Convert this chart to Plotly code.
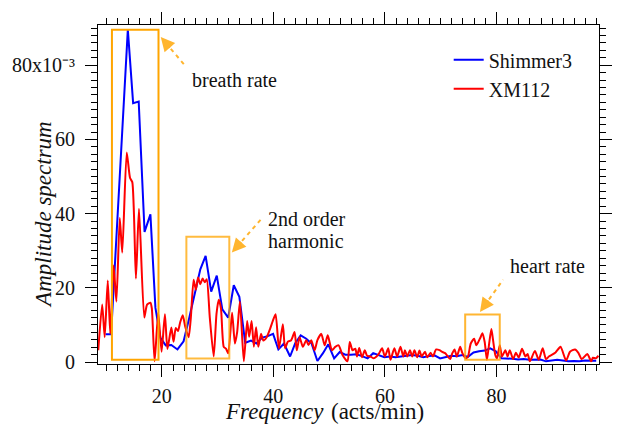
import plotly.graph_objects as go

# Shimmer3 amplitude spectrum: frequency (acts/min) and amplitude (x1e-3)
shimmer_freq = [9.9, 10.9, 11.9, 12.9, 13.9, 14.85, 15.85, 16.9, 17.95, 18.85,
                19.75, 20.7, 21.7, 22.8, 23.9, 24.9, 25.9, 26.9, 27.85, 28.85,
                29.85, 30.85, 31.9, 32.9, 33.9, 34.95, 36.0, 36.95, 38.0, 39.0,
                39.95, 40.9, 41.9, 43.0, 43.9, 44.9, 45.9, 46.85, 47.9, 48.9,
                49.85, 50.9, 51.9, 52.9, 53.9, 54.9, 55.9, 56.9, 57.9, 58.9,
                59.9, 60.9, 61.9, 62.9, 63.9, 64.9, 65.9, 66.9, 67.9, 68.9,
                69.9, 70.9, 71.9, 72.9, 73.9, 74.9, 75.9, 76.9, 77.9, 78.9,
                79.9, 80.9, 81.9, 82.9, 83.9, 84.9, 85.9, 86.9, 87.9, 88.9,
                89.9, 90.9, 91.9, 92.9, 93.9, 94.9, 95.9, 96.9, 97.9]
shimmer_amp = [7.5, 7.5, 35.0, 62.0, 89.6, 69.8, 70.2, 35.1, 39.8, 14.6,
               6.5, 4.5, 4.6, 3.4, 5.6, 11.8, 18.5, 25.0, 28.6, 19.0,
               23.3, 14.2, 12.0, 20.7, 17.6, 5.2, 5.8, 5.0, 6.6, 7.0,
               7.6, 3.4, 5.0, 1.5, 5.0, 7.2, 6.3, 5.0, 0.3, 2.4,
               4.8, 1.0, 2.7, 2.0, 2.0, 2.1, 1.6, 1.0, 2.4, 1.9,
               1.3, 1.5, 1.3, 1.5, 1.7, 1.9, 1.7, 1.3, 1.6, 1.8,
               1.0, 1.3, 1.7, 1.6, 1.9, 1.4, 2.6, 2.9, 3.1, 3.7,
               2.9, 1.0, 1.0, 0.9, 0.7, 0.8, 0.6, 0.7, 0.7, 0.2,
               0.5, 0.6, 0.4, 0.2, 0.3, 0.2, 0.4, 0.35, 0.35]

# XM112 amplitude spectrum: frequency (acts/min) and amplitude (x1e-3)
xm_freq = [8.6, 9.3, 9.75, 10.3, 10.75, 11.35, 11.85, 12.45, 12.9, 13.7,
           14.3, 14.7, 15.35, 15.9, 16.85, 17.35, 17.95, 18.2, 18.7, 19.35,
           19.95, 20.55, 21.0, 21.7, 22.1, 22.5, 22.9, 23.3, 23.75, 24.2,
           24.8, 25.2, 25.7, 26.1, 26.5, 26.9, 27.3, 27.7, 28.05, 28.6,
           29.3, 29.8, 30.2, 30.6, 31.1, 31.5, 31.9, 32.6, 33.1, 33.5,
           34.0, 34.7, 35.3, 35.65, 36.1, 36.5, 36.9, 37.3, 37.8, 38.2,
           38.8, 39.4, 39.9, 40.4, 41.0, 41.7, 42.1, 42.6, 43.2, 43.8,
           44.2, 44.7, 45.3, 45.9, 46.3, 46.8, 47.4, 47.9, 48.6, 49.2,
           49.75, 50.5, 51.1, 51.7, 52.4, 53.3, 53.7, 54.2, 54.7, 55.0,
           55.4, 55.9, 56.4, 56.8, 57.4, 58.0, 58.5, 58.9, 59.5, 60.0,
           60.6, 61.0, 61.7, 62.2, 62.8, 63.3, 63.6, 64.0, 64.5, 64.9,
           65.3, 65.8, 66.2, 66.6, 67.2, 67.6, 68.2, 68.6, 69.2, 69.8,
           70.2, 70.8, 71.2, 71.7, 72.1, 72.5, 72.9, 73.5, 73.9, 74.5,
           74.9, 75.4, 76.0, 76.4, 77.1, 77.5, 77.9, 78.3, 78.7, 79.1,
           79.4, 79.8, 80.1, 80.6, 81.0, 81.6, 82.0, 82.4, 83.0, 83.5,
           84.0, 84.6, 85.2, 85.6, 86.0, 86.9, 87.6, 88.3, 88.9, 89.4,
           90.0, 90.6, 91.5, 92.5, 93.2, 94.1, 94.7, 95.3, 96.3, 97.0,
           97.3, 97.8, 98.3]
xm_amp = [3.2, 15.5, 6.7, 22.0, 7.6, 26.0, 16.3, 38.8, 29.5, 56.5,
          49.6, 48.5, 22.5, 41.3, 12.0, 15.5, 16.0, 14.5, 0.2, 13.3,
          2.8, 12.9, 3.5, 9.3, 5.5, 9.2, 8.4, 10.8, 12.6, 9.5,
          6.7, 12.0, 22.2, 19.5, 22.8, 21.0, 22.5, 21.5, 22.3, 12.0,
          1.5, 13.0, 16.8, 14.5, 4.1, 3.6, 2.4, 13.3, 5.0, 8.0,
          16.3, 0.2, 11.1, 6.8, 11.1, 4.1, 9.4, 4.1, 7.6, 5.8,
          6.7, 8.9, 11.1, 12.9, 3.7, 10.2, 3.7, 5.5, 5.9, 8.1,
          3.2, 6.7, 4.1, 5.9, 4.6, 5.9, 3.2, 5.9, 7.6, 4.5,
          7.2, 3.2, 4.1, 4.5, 1.9, 0.2, 5.4, 3.2, 3.6, 1.5,
          3.8, 1.3, 3.2, 1.7, 1.5, 1.0, 1.5, 2.2, 3.7, 1.5,
          3.7, 0.6, 3.7, 1.5, 4.1, 1.5, 3.2, 1.5, 3.2, 1.5,
          3.2, 1.3, 3.1, 1.5, 2.8, 1.3, 2.5, 1.5, 3.4, 3.2,
          2.8, 2.4, 1.7, 0.8, 2.4, 3.4, 1.5, 4.1, 2.4, 1.0,
          1.5, 5.0, 6.3, 4.5, 6.5, 7.8, 5.4, 0.6, 5.0, 8.9,
          5.9, 1.9, 1.0, 4.5, 1.5, 3.2, 1.5, 3.2, 0.8, 2.5,
          1.2, 3.6, 1.5, 2.2, 0.2, 3.0, 0.6, 3.7, 0.8, 1.5,
          2.0, 2.6, 4.1, 0.4, 2.8, 3.4, 2.5, 0.8, 2.2, 0.2,
          1.2, 1.0, 1.7]

# Axis ticks
x_major = [20, 40, 60, 80]
y_major = [0, 20, 40, 60, 80]
y_major_text = ["0", "20", "40", "60", "80x10\u207b\u00b3"]

# Highlighted regions: (x0, x1, y0, y1)
breath_box = (11.05, 19.4, 0.6, 89.6)
harmonic_box = (24.4, 32.1, 0.95, 33.8)
heart_box = (74.4, 80.6, 0.6, 12.85)

# Pointer arrows: (tip x, tip y, tail x, tail y) in data units
breath_arrow = (19.8, 87.6, 24.0, 80.2)
harmonic_arrow = (32.55, 29.5, 38.1, 39.0)
heart_arrow = (77.05, 13.5, 81.2, 22.2)

X_RANGE = [8.55, 98.4]
Y_RANGE = [-0.52, 90.85]

FONT = "Liberation Serif"
TEXT = "#111111"
ORANGE = "#FFA500"
ARROW = "#FFB52E"

fig = go.Figure()
fig.add_trace(go.Scatter(x=shimmer_freq, y=shimmer_amp, mode="lines",
                         name="Shimmer3", line=dict(color="#0000FF", width=2)))
fig.add_trace(go.Scatter(x=xm_freq, y=xm_amp, mode="lines", name="XM112",
                         line=dict(color="#FF0000", width=2, shape="spline",
                                   smoothing=0.6)))

for (x0, x1, y0, y1), op in [(breath_box, 1.0), (harmonic_box, 0.75), (heart_box, 0.8)]:
    fig.add_shape(type="rect", xref="x", yref="y", x0=x0, x1=x1, y0=y0, y1=y1,
                  line=dict(color=ORANGE, width=2), opacity=op, layer="above")

# pixel size of one data unit, used to place the head a fixed length from the tip
PX_X = 520 / (X_RANGE[1] - X_RANGE[0])
PX_Y = 348 / (Y_RANGE[1] - Y_RANGE[0])
HEAD = 16

for tx, ty, sx, sy in [breath_arrow, harmonic_arrow, heart_arrow]:
    dx_px, dy_px = (sx - tx) * PX_X, (sy - ty) * PX_Y
    length = (dx_px ** 2 + dy_px ** 2) ** 0.5
    bx = tx + (sx - tx) * HEAD / length
    by = ty + (sy - ty) * HEAD / length
    fig.add_shape(type="line", xref="x", yref="y", x0=bx, y0=by, x1=sx, y1=sy,
                  line=dict(color=ARROW, width=2, dash="4px,4px"))
    fig.add_annotation(x=tx, y=ty, xref="x", yref="y", text="", showarrow=True,
                       arrowhead=2, arrowsize=1.4, arrowwidth=2, arrowcolor=ARROW,
                       ax=dx_px * HEAD / length, ay=-dy_px * HEAD / length)

text_font = dict(family=FONT, size=20, color=TEXT)
fig.add_annotation(x=24.98, y=76.1, xref="x", yref="y", text="breath rate",
                   showarrow=False, xanchor="left", yanchor="middle", font=text_font)
fig.add_annotation(x=38.6, y=38.6, xref="x", yref="y", text="2nd order",
                   showarrow=False, xanchor="left", yanchor="middle", font=text_font)
fig.add_annotation(x=38.6, y=32.6, xref="x", yref="y", text="harmonic",
                   showarrow=False, xanchor="left", yanchor="middle", font=text_font)
fig.add_annotation(x=82.0, y=26.0, xref="x", yref="y", text="heart rate",
                   showarrow=False, xanchor="left", yanchor="middle", font=text_font)

# axis titles: italic quantity name followed by upright unit
fig.add_annotation(x=0.4558, y=-0.14, xref="paper", yref="paper", text="Frequency",
                   showarrow=False, xanchor="right", yanchor="middle",
                   font=dict(family=FONT, size=23, color=TEXT, style="italic"))
fig.add_annotation(x=0.4615, y=-0.14, xref="paper", yref="paper", text="(acts/min)",
                   showarrow=False, xanchor="left", yanchor="middle",
                   font=dict(family=FONT, size=23, color=TEXT))
fig.add_annotation(x=-0.108, y=0.4425, xref="paper", yref="paper",
                   text="Amplitude spectrum", showarrow=False, textangle=-90,
                   xanchor="center", yanchor="middle",
                   font=dict(family=FONT, size=23, color=TEXT, style="italic"))

axis_common = dict(showgrid=False, zeroline=False, ticks="outside", tickcolor="black",
                   tickwidth=1, showline=True, linecolor="black", linewidth=1,
                   mirror="allticks", tickfont=dict(family=FONT, size=20, color=TEXT))

fig.update_layout(
    width=624, height=428,
    margin=dict(l=92, r=12, t=16, b=64),
    paper_bgcolor="white", plot_bgcolor="white",
    font=dict(family=FONT, color=TEXT),
    showlegend=True,
    legend=dict(x=0.70, y=0.955, xanchor="left", yanchor="top",
                bgcolor="rgba(0,0,0,0)", font=dict(family=FONT, size=20, color=TEXT)),
    xaxis=dict(range=X_RANGE, tickmode="array", tickvals=x_major, ticklen=12,
               ticklabelstandoff=2,
               minor=dict(dtick=2, tick0=0, ticklen=6, ticks="outside", tickcolor="black"),
               **axis_common),
    yaxis=dict(range=Y_RANGE, tickmode="array", tickvals=y_major, ticktext=y_major_text,
               ticklen=12, ticklabelstandoff=6,
               minor=dict(dtick=2, tick0=0, ticklen=6, ticks="outside", tickcolor="black"),
               **axis_common),
)

fig.write_html("out.html")
